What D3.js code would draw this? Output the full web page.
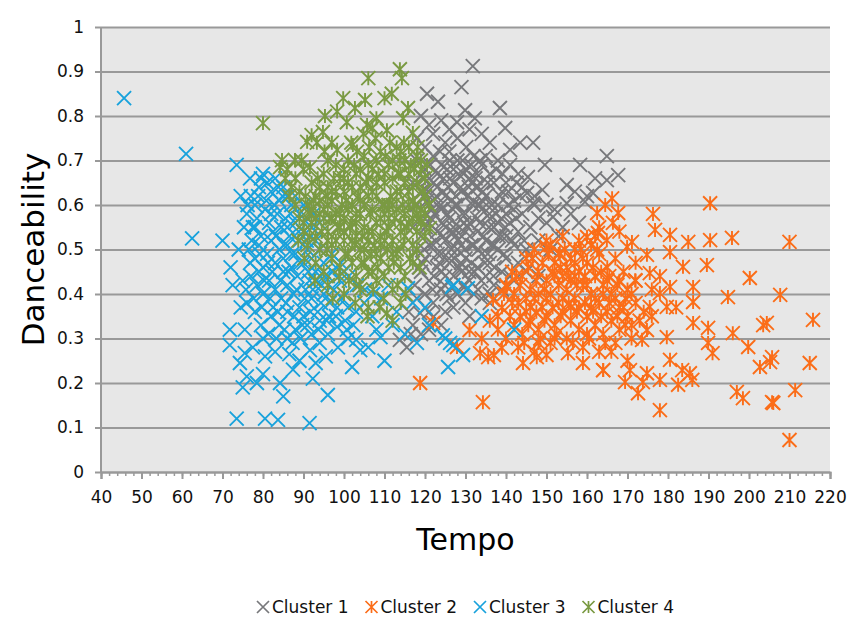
<!DOCTYPE html>
<html>
<head>
<meta charset="utf-8">
<script src="https://cdn.jsdelivr.net/npm/d3@7"></script>
<style>
    body { margin: 0; background: #fff; }
    text { font-family: "DejaVu Sans", sans-serif; }
</style>
</head>
<body>
<div id="chart"></div>
<script>
// [tempo, danceability]
var cluster1 = [
    [131.8,0.912],[129,0.865],[120.5,0.85],[123.2,0.832],[138.5,0.818],[129.9,0.813],[139.8,0.773],[132.3,0.795],
    [127.9,0.786],[146.7,0.74],[143.5,0.74],[141,0.724],[149.6,0.69],[158.3,0.69],[164.9,0.71],[167.7,0.667],
    [164.9,0.656],[155,0.645],[161.5,0.627],[159.5,0.607],[155,0.604],[151.6,0.573],[154,0.55],[146.7,0.604],
    [145.2,0.627],[145.4,0.663],[149,0.634],[119,0.8],[121,0.78],[122,0.76],[124,0.79],[126,0.77],[118,0.75],
    [120,0.73],[125,0.74],[128,0.75],[131,0.77],[134,0.76],[136,0.74],[135,0.71],[138,0.7],[141,0.69],[143,0.67],
    [140,0.65],[144,0.64],[147,0.62],[150,0.6],[148,0.57],[152,0.59],
    [118,0.7],[120,0.68],[122,0.71],[124,0.69],[126,0.72],[128,0.7],[130,0.68],[132,0.71],[134,0.69],[136,0.67],
    [117,0.65],[119,0.63],[121,0.66],[123,0.64],[125,0.62],[127,0.65],[129,0.63],[131,0.66],[133,0.64],[135,0.62],
    [137,0.65],[139,0.63],[118,0.6],[120,0.58],[122,0.61],[124,0.59],[126,0.57],[128,0.6],[130,0.58],[132,0.61],
    [134,0.59],[136,0.57],[138,0.6],[140,0.58],[142,0.61],[117,0.55],[119,0.53],[121,0.56],[123,0.54],[125,0.52],
    [127,0.55],[129,0.53],[131,0.56],[133,0.54],[135,0.52],[137,0.55],[139,0.53],[141,0.56],[143,0.54],[118,0.5],
    [120,0.48],[122,0.51],[124,0.49],[126,0.47],[128,0.5],[130,0.48],[132,0.51],[134,0.49],[136,0.47],[138,0.5],
    [140,0.48],[142,0.51],[119,0.45],[121,0.43],[123,0.46],[125,0.44],[127,0.42],[129,0.45],[131,0.43],[133,0.46],
    [135,0.44],[137,0.42],[139,0.45],[120,0.4],[122,0.38],[124,0.41],[126,0.39],[128,0.4],[130,0.38],[132,0.4],
    [134,0.39],[115.5,0.28],[113.8,0.297],[118.8,0.357],[122,0.348],[117,0.33],[119,0.31],[116,0.36],[121,0.32],
    [144,0.58],[146,0.55],[145,0.5],[148,0.52],[143,0.47],[141,0.44],[147,0.6],[150,0.56],[127.5,0.6],[130.5,0.62],
    [125.5,0.58],[133.5,0.56],[128.5,0.55],[124.5,0.53],[136.5,0.6],[132.5,0.66],[127,0.68],[123,0.67],[138,0.56],
    [126.5,0.5],[131.5,0.47],[135.5,0.49],[129.5,0.42],[125,0.36],[136,0.4],
    [119.5,0.66],[120.5,0.61],[121.5,0.57],[122.5,0.52],[123.5,0.47],[124.5,0.63],[125.5,0.68],[126.5,0.61],
    [127.5,0.53],[128.5,0.46],[129.5,0.67],[130.5,0.55],[131.5,0.51],[132.5,0.64],[133.5,0.6],[134.5,0.53],
    [135.5,0.65],[136.5,0.51],[137.5,0.58],[138.5,0.62],[139.5,0.49],[140.5,0.6],[141.5,0.52],[121.3,0.69],
    [123.7,0.72],[126.2,0.66],[128.8,0.64],[130.2,0.73],[132.8,0.67],[134.3,0.63],[119.8,0.5],[122.2,0.44],
    [124.8,0.42],[127.2,0.48],[129.8,0.5],[132.2,0.45],[134.8,0.47],[137.2,0.46],[139.8,0.55],[142.5,0.57],
    [144.5,0.52],[146.5,0.48],[143.5,0.62],[121.8,0.59],[124.2,0.56],[126.8,0.54],[129.2,0.58],[131.8,0.6],
    [133.2,0.5],[135.8,0.55],[138.2,0.53],[125.8,0.64],[128.2,0.67],[130.8,0.64],[122.8,0.62],[120.2,0.55],
    [118.5,0.46],[117.5,0.42],[121,0.36],[124,0.33],[127,0.37],[131,0.35],[118,0.39],[116.5,0.31],[136,0.38],
    [139,0.41],[142,0.43],[145,0.45],[148,0.44],[151,0.5],[153,0.53],[156,0.58],[158,0.56],[160,0.62],[162,0.66],
    [157,0.63],
    [120.7,0.63],[122.3,0.58],[123.9,0.6],[125.1,0.55],[126.9,0.59],[128.1,0.52],[129.7,0.56],[131.1,0.53],
    [132.9,0.57],[134.1,0.61],[135.9,0.58],[137.1,0.51],[138.9,0.57],[140.1,0.53],[141.9,0.59],[121.1,0.51],
    [123.1,0.49],[125.9,0.48],[128.9,0.47],[130.9,0.45],[133.9,0.43],[136.9,0.44],[124.1,0.45],[127.1,0.44],
    [130.1,0.41],[133.1,0.41],[125.3,0.4],[119.3,0.47],[121.9,0.41],[127.6,0.62],[124.6,0.66],[122.1,0.65],
    [129.3,0.7],[133.6,0.7],[137.6,0.68],[140.6,0.63],[142.6,0.65],[139.2,0.67],[126.1,0.7],[131.4,0.69]
];
var cluster2 = [
    [190.4,0.604],[166.2,0.615],[176.3,0.58],[176.8,0.544],[180.5,0.533],[185,0.517],[190.4,0.521],[195.8,0.526],
    [210,0.517],[180.5,0.494],[183.7,0.461],[189.6,0.465],[200.2,0.436],[194.8,0.393],[207.7,0.398],[186.2,0.416],
    [186.2,0.382],[180.5,0.416],[186.2,0.335],[189.9,0.324],[196,0.312],[204.4,0.335],[203.5,0.33],[215.8,0.342],
    [199.8,0.281],[191,0.267],[189.9,0.29],[202.7,0.236],[205.2,0.247],[205.7,0.258],[215,0.245],[197,0.18],
    [198.5,0.166],[205.7,0.157],[206,0.155],[211.4,0.184],[210,0.072],[178,0.139],[172.6,0.177],[180.5,0.252],
    [183.5,0.229],[185.4,0.222],[186,0.207],[182.5,0.196],[178,0.207],[174.8,0.222],[173.8,0.202],[169.4,0.202],
    [170.6,0.229],[164,0.229],[179.7,0.303],[174.8,0.319],[173.6,0.297],[175.5,0.371],[178,0.402],[179.7,0.371],
    [182,0.37],[174.8,0.488],[175.5,0.447],[171.9,0.431],[169.9,0.506],[171.1,0.517],[164.9,0.521],[162.7,0.537],
    [160,0.528],[162.5,0.582],[167.7,0.582],[166.4,0.56],[168,0.54],[163,0.55],[164.5,0.6],
    [140,0.42],[142,0.4],[144,0.44],[146,0.41],[148,0.45],[150,0.43],[152,0.47],[154,0.44],[156,0.48],[158,0.45],
    [160,0.47],[162,0.44],[164,0.42],[166,0.4],[168,0.43],[170,0.41],[139,0.37],[141,0.35],[143,0.38],[145,0.36],
    [147,0.39],[149,0.37],[151,0.4],[153,0.38],[155,0.41],[157,0.39],[159,0.42],[161,0.4],[163,0.38],[165,0.36],
    [167,0.39],[169,0.37],[171,0.4],[138,0.32],[140,0.3],[142,0.33],[144,0.31],[146,0.34],[148,0.32],[150,0.35],
    [152,0.33],[154,0.36],[156,0.34],[158,0.32],[160,0.35],[162,0.33],[164,0.31],[166,0.34],[168,0.32],[170,0.35],
    [143,0.28],[147,0.27],[151,0.29],[155,0.3],[159,0.28],[163,0.27],[167,0.29],[171,0.3],[145,0.48],[147,0.5],
    [149,0.47],[151,0.51],[153,0.49],[155,0.46],[157,0.5],[159,0.48],[161,0.51],[163,0.49],[165,0.46],[167,0.48],
    [150,0.52],[154,0.53],[158,0.52],[162,0.53],[136.8,0.387],[140.2,0.416],[150,0.506],[153.3,0.492],[131,0.319],
    [127.9,0.281],[122,0.335],[118.8,0.2],[134.3,0.157],[133.6,0.267],[135.6,0.258],[137,0.263],[139,0.279],
    [144.2,0.245],[147.6,0.258],[150,0.263],[155.3,0.267],[159,0.245],[164,0.229],[134,0.3],[136,0.34],
    [145,0.39],[153,0.42],[157,0.44],[161,0.37],[165,0.43],[169,0.45],[172,0.38],[173,0.34],[176,0.41],
    [156,0.37],[152,0.3],[148,0.29],[160,0.31],[166,0.27],[170,0.25],[176,0.35],[178,0.44],[172,0.47],[157,0.47],
    [141.5,0.45],[143.5,0.42],[145.5,0.46],[147.5,0.43],[149.5,0.41],[151.5,0.45],[153.5,0.46],[155.5,0.44],
    [157.5,0.42],[159.5,0.44],[161.5,0.46],[163.5,0.45],[165.5,0.44],[167.5,0.42],[169.5,0.39],[141.5,0.38],
    [143.5,0.35],[145.5,0.33],[147.5,0.36],[149.5,0.34],[151.5,0.37],[153.5,0.35],[155.5,0.38],[157.5,0.36],
    [159.5,0.38],[161.5,0.36],[163.5,0.35],[165.5,0.38],[167.5,0.35],[169.5,0.33],[144.5,0.29],[148.5,0.3],
    [152.5,0.31],[156.5,0.29],[160.5,0.3],[164.5,0.29],[146.5,0.48],[150.5,0.49],[154.5,0.5],[158.5,0.5],
    [162.5,0.5],[152,0.44],[156,0.43],[148,0.4],[160,0.42],[164,0.4],[168,0.37],[146,0.37],[150,0.39],[154,0.39],
    [158,0.37],[162,0.39],[138,0.35],[139.5,0.4],[142.5,0.44],[172,0.43],[174,0.36],[171,0.33]
];
var cluster3 = [
    [45.7,0.84],[61,0.715],[62.5,0.525],[70,0.52],[73.5,0.69],[72,0.46],[72.5,0.42],[71.8,0.32],[71.8,0.285],
    [74,0.5],[73.5,0.12],[80.5,0.12],[83.7,0.117],[91.5,0.11],[75,0.19],[76,0.215],[78.5,0.2],[80,0.22],
    [84.2,0.2],[85,0.17],[87.4,0.23],[92.3,0.21],[96,0.173],[74.3,0.245],[75.5,0.267],[77.5,0.28],[80,0.3],
    [86,0.3],[91.6,0.274],[94,0.29],[90.9,0.33],[98.3,0.326],[100.7,0.32],[103,0.297],[102,0.236],[104,0.274],
    [109,0.303],[110,0.25],[125.7,0.236],[127,0.285],[125,0.3],[127,0.42],[115.8,0.413],[126.7,0.416],
    [130.6,0.413],[134,0.35],[142,0.32],[124.4,0.307],[126.2,0.29],[129.4,0.263],
    [76.8,0.66],[77,0.62],[78,0.6],[79,0.64],[80,0.67],[81,0.65],[82,0.63],[83,0.66],[84,0.61],[85,0.64],
    [86,0.62],[87,0.6],[76,0.58],[77.5,0.55],[78.5,0.57],[79.5,0.53],[80.5,0.59],[81.5,0.56],[82.5,0.54],
    [83.5,0.58],[84.5,0.55],[85.5,0.57],[86.5,0.53],[88,0.56],[89,0.58],[90,0.54],[91,0.57],[92,0.55],[93,0.52],
    [94,0.56],[76.5,0.5],[78,0.48],[79,0.51],[80,0.46],[81,0.49],[82,0.52],[83,0.47],[84,0.5],[85,0.48],[86,0.51],
    [87,0.46],[88,0.49],[89,0.52],[90,0.47],[91,0.5],[92,0.48],[93,0.45],[94,0.5],[95,0.47],[96,0.44],[97,0.49],
    [98,0.46],[99,0.43],[100,0.45],[77,0.44],[78.5,0.42],[80,0.4],[81.5,0.43],[83,0.41],[84.5,0.39],[86,0.42],
    [87.5,0.4],[89,0.37],[90.5,0.41],[92,0.39],[93.5,0.36],[95,0.4],[96.5,0.38],[98,0.35],[99.5,0.39],[101,0.37],
    [103,0.36],[105,0.38],[107,0.35],[76,0.38],[78,0.36],[79.5,0.33],[82,0.35],[84,0.33],[86,0.36],[88,0.32],
    [90,0.35],[92,0.31],[94,0.34],[96,0.31],[108,0.32],[112,0.33],[106,0.28],[113,0.36],[117,0.38],[120,0.37],
    [111,0.42],[82.5,0.37],[85,0.45],[88.5,0.44],[91.5,0.43],[94.5,0.42],[97.5,0.41],[79,0.45],[75,0.43],
    [74.5,0.37],[75.5,0.32],[80.5,0.26],[83,0.27],[86.5,0.265],[89,0.25],[93,0.245],[95.5,0.26],[98.5,0.28],
    [101,0.3],[115,0.31],[118,0.29],[121,0.33],
    [78.8,0.62],[80.8,0.61],[82.8,0.6],[84.8,0.62],[86.8,0.58],[88.8,0.54],[90.8,0.52],[77.2,0.52],[79.2,0.49],
    [81.2,0.47],[83.2,0.53],[85.2,0.51],[87.2,0.49],[89.2,0.47],[91.2,0.45],[93.2,0.43],[95.2,0.44],[97.2,0.45],
    [99.2,0.47],[101.2,0.44],[103.2,0.42],[105.2,0.41],[107.2,0.4],[109.2,0.39],[80.3,0.43],[82.3,0.45],
    [84.3,0.43],[86.3,0.45],[88.3,0.41],[90.3,0.39],[92.3,0.41],[94.3,0.38],[96.3,0.35],[98.3,0.37],[100.3,0.34],
    [102.3,0.33],[77.7,0.39],[79.7,0.37],[81.7,0.39],[83.7,0.36],[85.7,0.38],[87.7,0.35],[89.7,0.33],[91.7,0.36],
    [93.7,0.32],[95.7,0.34],[81.3,0.31],[83.3,0.3],[85.3,0.32],[87.3,0.29],[89.3,0.3],[78,0.55],[82,0.58],
    [86,0.55],[90,0.6],[92.5,0.58],[88,0.62],[79.5,0.66],[83.8,0.64],[76.2,0.6],[75.3,0.55],[74.5,0.62],
    [76.8,0.47],[75.8,0.41]
];
var cluster4 = [
    [80,0.784],[113.8,0.905],[114.3,0.885],[106,0.885],[99.8,0.84],[105.2,0.836],[110,0.84],[111.8,0.85],
    [95.3,0.8],[98.3,0.81],[102.7,0.818],[100.7,0.786],[108,0.795],[115.8,0.818],[114.6,0.795],[105.7,0.78],
    [92,0.757],[94.8,0.764],[93.3,0.74],[90.9,0.742],[98.3,0.724],[102.2,0.735],[107,0.773],[110.6,0.768],
    [117,0.762],[84.7,0.701],[87.9,0.701],[84.2,0.685],[91.6,0.685],
    [88,0.66],[89,0.63],[90,0.68],[91,0.6],[92,0.65],[93,0.62],[94,0.58],[95,0.67],[96,0.64],[97,0.61],[98,0.69],
    [99,0.66],[100,0.63],[101,0.7],[102,0.6],[103,0.67],[104,0.64],[105,0.71],[106,0.62],[107,0.68],[108,0.65],
    [109,0.72],[110,0.6],[111,0.69],[112,0.66],[113,0.73],[114,0.63],[115,0.7],[116,0.67],[117,0.64],[118,0.71],
    [119,0.68],[120,0.62],[89,0.57],[90,0.54],[91,0.51],[92,0.56],[93,0.53],[94,0.5],[95,0.57],[96,0.54],[97,0.51],
    [98,0.58],[99,0.55],[100,0.52],[101,0.59],[102,0.56],[103,0.53],[104,0.58],[105,0.55],[106,0.52],[107,0.59],
    [108,0.56],[109,0.53],[110,0.58],[111,0.55],[112,0.52],[113,0.59],[114,0.56],[115,0.53],[116,0.6],[117,0.57],
    [118,0.54],[119,0.59],[93,0.47],[95,0.45],[97,0.48],[99,0.46],[101,0.49],[103,0.44],[105,0.47],[107,0.45],
    [109,0.48],[111,0.46],[113,0.49],[115,0.44],[117,0.47],[96,0.42],[100,0.4],[104,0.41],[108,0.43],[112,0.41],
    [110.6,0.357],[112,0.34],[106,0.37],[114,0.38],[96,0.6],[100,0.57],[104,0.61],[108,0.62],[112,0.6],
    [116,0.63],[94,0.64],[98,0.63],[102,0.64],[106,0.66],[110,0.65],[114,0.67],[118,0.65],[92,0.59],[97,0.57],
    [103,0.56],[107,0.54],[111,0.57],[115,0.58],[119,0.56],[105,0.5],[109,0.51],[113,0.5],[117,0.51],[121,0.6],
    [120,0.66],[119,0.7],[116,0.73],[112,0.7],[108,0.7],[104,0.68],[100,0.68],[96,0.7],[86,0.68],[87,0.64],
    [88,0.6],[90,0.56],[91.5,0.53],[85.5,0.66],[98,0.52],[102,0.47],[106,0.45],[110,0.44],[114,0.46],[118,0.5],
    [120,0.53],[121.2,0.548],
    [100.5,0.61],[101.5,0.55],[102.5,0.69],[103.5,0.62],[104.5,0.53],[105.5,0.65],[106.5,0.58],[107.5,0.51],
    [108.5,0.67],[109.5,0.6],[110.5,0.54],[111.5,0.62],[112.5,0.57],[113.5,0.67],[114.5,0.6],[115.5,0.55],
    [116.5,0.69],[117.5,0.6],[118.5,0.57],[119.5,0.63],[99.5,0.6],[98.5,0.55],[97.5,0.66],[96.5,0.57],[95.5,0.62],
    [94.5,0.54],[93.5,0.66],[92.5,0.61],[91.5,0.58],[90.5,0.62],[100.3,0.49],[102.7,0.51],[104.3,0.47],
    [106.7,0.49],[108.3,0.46],[110.7,0.5],[112.3,0.47],[114.7,0.51],[116.3,0.48],[118.7,0.46],[101.2,0.43],
    [103.8,0.42],[107.2,0.41],[109.8,0.39],[113.2,0.42],[98.8,0.44],[97.2,0.39],[102.8,0.38],[105.8,0.35],
    [108.8,0.37],[115.2,0.4],[110.2,0.71],[106.2,0.73],[103.2,0.72],[113.7,0.7],[117.3,0.68],[120.5,0.69],
    [118.2,0.73],[114.8,0.74],[111.3,0.74],[107.8,0.75],[104.8,0.76],[101.8,0.74],[97,0.74],[95.2,0.72],
    [89.5,0.7],[86.5,0.62],[88.7,0.52],[90.2,0.48],[92.8,0.43],[95.8,0.5],
    [101,0.65],[103,0.58],[105,0.6],[107,0.63],[109,0.57],[111,0.6],[113,0.63],[115,0.65],[117,0.61],[99,0.58],
    [97,0.63],[95,0.59],[93,0.57],[102,0.52],[106,0.54],[110,0.52],[114,0.54],[118,0.58],[108,0.49],[104,0.5],
    [100,0.54],[96,0.52],[112,0.49],[116,0.56],[120,0.58],[106,0.69],[110,0.67],[114,0.72],[100,0.66],[94,0.61]
];

var seriesNames = ["Cluster 1", "Cluster 2", "Cluster 3", "Cluster 4"];
var seriesData = [cluster1, cluster2, cluster3, cluster4];
var seriesColors = ["#77787b", "#fb6d18", "#18a2dc", "#7a9a42"];
var seriesShapes = ["cross", "star", "cross", "star"];

var xTicks = d3.range(40, 221, 10);
var xMinorTicks = d3.range(40, 221, 2);
var yTicks = d3.range(0, 1.01, 0.1);

var width = 865, height = 625;
var plot = {left: 101, right: 830, top: 27, bottom: 472};

var svg = d3.select("#chart").append("svg")
    .attr("width", width)
    .attr("height", height);

var x = d3.scaleLinear().domain([40, 220]).range([plot.left, plot.right]);
var y = d3.scaleLinear().domain([0, 1]).range([plot.bottom, plot.top]);

// background
svg.append("rect")
    .attr("x", plot.left)
    .attr("y", plot.top)
    .attr("width", plot.right - plot.left)
    .attr("height", plot.bottom - plot.top)
    .style("fill", "#e7e7e7");

// horizontal grid + y axis
var yAxis = svg.append("g")
    .attr("transform", "translate(" + plot.left + ",0)")
    .call(d3.axisLeft(y).tickValues(yTicks)
        .tickSize(-(plot.right - plot.left))
        .tickFormat(function (d) { return d3.format("~g")(+d.toFixed(1)); }));
yAxis.select(".domain").remove();
yAxis.selectAll(".tick line")
    .attr("x1", -6)
    .style("stroke", "#999")
    .style("stroke-width", 2);
yAxis.selectAll(".tick text")
    .attr("x", -17)
    .style("font-size", "17px")
    .style("font-family", "DejaVu Sans")
    .style("fill", "#111");

// x axis with minor ticks
svg.append("g")
    .attr("transform", "translate(0," + plot.bottom + ")")
    .call(d3.axisBottom(x).tickValues(xMinorTicks).tickSize(4).tickFormat(""))
    .call(function (g) { g.select(".domain").remove(); })
    .selectAll("line")
    .style("stroke", "#999")
    .style("stroke-width", 1.5);

var xAxis = svg.append("g")
    .attr("transform", "translate(0," + plot.bottom + ")")
    .call(d3.axisBottom(x).tickValues(xTicks).tickSize(7).tickPadding(12));
xAxis.select(".domain")
    .style("stroke", "#999")
    .style("stroke-width", 2);
xAxis.selectAll(".tick line")
    .style("stroke", "#999")
    .style("stroke-width", 2);
xAxis.selectAll(".tick text")
    .style("font-size", "17px")
    .style("font-family", "DejaVu Sans")
    .style("fill", "#111");

// left axis line
svg.append("line")
    .attr("x1", plot.left).attr("x2", plot.left)
    .attr("y1", plot.top).attr("y2", plot.bottom)
    .style("stroke", "#999")
    .style("stroke-width", 2);

function markerPath(shape, s) {
    var p = "M" + (-s) + "," + (-s) + "L" + s + "," + s + "M" + (-s) + "," + s + "L" + s + "," + (-s);
    if (shape === "star") p += "M0," + (-s) + "L0," + s;
    return p;
}

// points, drawn in legend order
seriesData.forEach(function (data, i) {
    svg.append("g")
        .selectAll("path")
        .data(data)
        .enter()
        .append("path")
        .attr("transform", function (d) {
            return "translate(" + x(d[0]) + "," + y(d[1]) + ")";
        })
        .attr("d", markerPath(seriesShapes[i], 7))
        .style("fill", "none")
        .style("stroke", seriesColors[i])
        .style("stroke-width", 1.9);
});

// axis titles
svg.append("text")
    .attr("x", (plot.left + plot.right) / 2)
    .attr("y", 550)
    .style("text-anchor", "middle")
    .style("font-size", "30px")
    .text("Tempo");

svg.append("text")
    .attr("transform", "rotate(-90)")
    .attr("x", -(plot.top + plot.bottom) / 2)
    .attr("y", 44)
    .style("text-anchor", "middle")
    .style("font-size", "31px")
    .text("Danceability");

// legend
var legend = svg.append("g")
    .attr("transform", "translate(263,607)");

var item = legend.selectAll("g")
    .data(seriesNames)
    .enter()
    .append("g")
    .attr("transform", function (d, i) { return "translate(" + (i * 108.5) + ",0)"; });

item.append("path")
    .attr("d", function (d, i) { return markerPath(seriesShapes[i], 6); })
    .style("fill", "none")
    .style("stroke", function (d, i) { return seriesColors[i]; })
    .style("stroke-width", 1.7);

item.append("text")
    .attr("x", 9)
    .attr("y", 6)
    .style("font-size", "17px")
    .style("fill", "#111")
    .text(function (d) { return d; });
</script>
</body>
</html>
